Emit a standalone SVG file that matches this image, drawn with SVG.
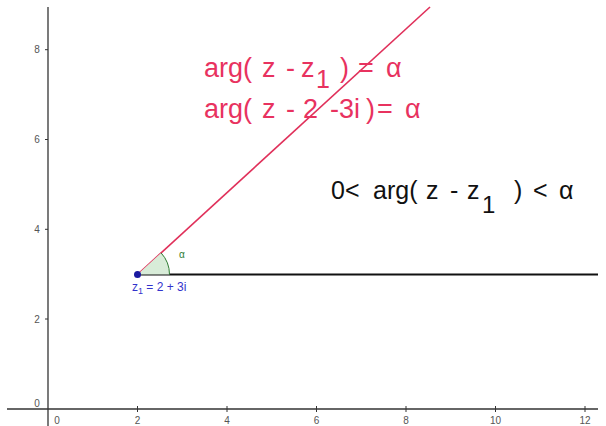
<svg xmlns="http://www.w3.org/2000/svg" width="606" height="426" viewBox="0 0 606 426">
<style>
.axis{stroke:#333;stroke-width:1.3;fill:none}
.tick{stroke:#333;stroke-width:1;fill:none}
.tl{font-family:"Liberation Sans",Arial,sans-serif;font-size:10px;fill:#555}
.red{font-family:"Liberation Sans",Arial,sans-serif;font-size:27px}
.blk{font-family:"Liberation Sans",Arial,sans-serif;font-size:25px}
</style>
<rect width="606" height="426" fill="#fff"/>
<g id="axes">
<line class="axis" x1="7" y1="409" x2="598" y2="409"/>
<line class="axis" x1="48" y1="7" x2="48" y2="426"/>
<path class="tick" d="M137.5 406v6M227 406v6M316.5 406v6M406 406v6M495.5 406v6M585 406v6M45 319h3M45 229.3h3M45 139.5h3M45 49.7h3"/>
<text class="tl" x="57" y="424" text-anchor="middle">0</text>
<text class="tl" x="137.5" y="424" text-anchor="middle">2</text>
<text class="tl" x="227" y="424" text-anchor="middle">4</text>
<text class="tl" x="316.5" y="424" text-anchor="middle">6</text>
<text class="tl" x="406" y="424" text-anchor="middle">8</text>
<text class="tl" x="495.5" y="424" text-anchor="middle">10</text>
<text class="tl" x="585" y="424" text-anchor="middle">12</text>
<text class="tl" x="37" y="407" text-anchor="middle">0</text>
<text class="tl" x="37" y="322.5" text-anchor="middle">2</text>
<text class="tl" x="37" y="232.8" text-anchor="middle">4</text>
<text class="tl" x="37" y="143" text-anchor="middle">6</text>
<text class="tl" x="37" y="53.2" text-anchor="middle">8</text>
</g>
<g id="connectors">
<line id="ray" x1="137.5" y1="274.5" x2="598" y2="274.5" stroke="#111" stroke-width="2"/>
<line id="redline" x1="137.5" y1="274.5" x2="430" y2="7" stroke="#e0305a" stroke-width="1.6"/>
</g>
<g id="angle">
<path d="M137.5 274.5 L169.5 274.5 A32 32 0 0 0 161.1 252.9 Z" fill="#d8ecd8" stroke="none"/>
<path d="M169.5 274.5 A32 32 0 0 0 161.1 252.9" fill="none" stroke="#2e7d32" stroke-width="1"/>
<text x="179" y="258" font-family="Liberation Sans,Arial,sans-serif" font-size="10" fill="#2e7d32">α</text>
</g>
<g id="z1">
<circle cx="137.5" cy="274.5" r="3.5" fill="#1a1aa0"/>
<text x="132" y="291" font-family="Liberation Sans,Arial,sans-serif" font-size="12" fill="#3333cc">z<tspan font-size="9" dy="3">1</tspan><tspan dy="-3"> = 2 + 3i</tspan></text>
</g>
<g id="redtext" fill="#e8325f">
<text class="red" y="77"><tspan x="204">arg(</tspan><tspan x="262">z</tspan><tspan x="286">-</tspan><tspan x="301">z</tspan><tspan x="316" y="88" font-size="25">1</tspan><tspan x="340" y="77">)</tspan><tspan x="358">=</tspan><tspan x="386">α</tspan></text>
<text class="red" y="118"><tspan x="204">arg(</tspan><tspan x="262">z</tspan><tspan x="286">-</tspan><tspan x="303">2</tspan><tspan x="330">-3i</tspan><tspan x="366">)</tspan><tspan x="377">=</tspan><tspan x="405">α</tspan></text>
</g>
<g id="blacktext" fill="#111">
<text class="blk" y="199"><tspan x="331">0&lt;</tspan><tspan x="373">arg(</tspan><tspan x="426">z</tspan><tspan x="450">-</tspan><tspan x="467">z</tspan><tspan x="482" y="213" font-size="24">1</tspan><tspan x="514" y="199">)</tspan><tspan x="533">&lt;</tspan><tspan x="559">α</tspan></text>
</g>
</svg>
